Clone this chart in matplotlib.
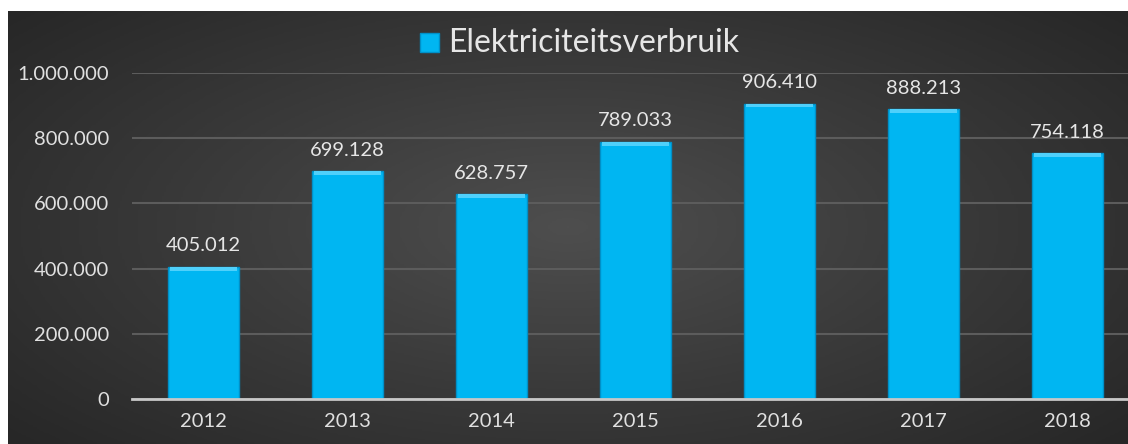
import numpy as np
import matplotlib
matplotlib.use("Agg")
import matplotlib.pyplot as plt
from matplotlib.colors import LinearSegmentedColormap

jaren = ["2012", "2013", "2014", "2015", "2016", "2017", "2018"]
verbruik = [405012, 699128, 628757, 789033, 906410, 888213, 754118]
y_ticks = [0, 200000, 400000, 600000, 800000, 1000000]


def nl(v):
    return f"{v:,}".replace(",", ".")


plt.rcParams["font.family"] = ["Lato", "DejaVu Sans"]
W, H = 1128, 444
fig = plt.figure(figsize=(W / 100, H / 100), dpi=100)
fig.patch.set_facecolor("white")

# achtergrond met radiaal verloop
bg = fig.add_axes([8 / W, 0, 1 - 8 / W, 433 / H])
yy, xx = np.mgrid[-1:1:200j, -1:1:500j]
r = np.sqrt((xx * 0.9) ** 2 + (yy * 0.8) ** 2)
cmap = LinearSegmentedColormap.from_list("bg", ["#4e4e4e", "#3a3a3a", "#272727"])
bg.imshow(r, cmap=cmap, aspect="auto", extent=[0, 1, 0, 1], vmin=0, vmax=1.2)
bg.set_axis_off()

ax = fig.add_axes([131.5 / W, 45 / H, (W - 131.5) / W, 326 / H])
ax.patch.set_alpha(0)
x = np.arange(len(jaren))
bw = 0.49
ax.bar(x, verbruik, width=bw, color="#00b6f2", edgecolor="#0090c8", linewidth=1, zorder=3)
# lichte bovenrand (bevel)
bevel = 12000
ax.bar(x, [bevel] * len(x), bottom=[v - bevel for v in verbruik], width=bw - 0.02,
       color="#4fd0fb", linewidth=0, zorder=4)

for xi, v in zip(x, verbruik):
    ax.annotate(nl(v), (xi, v), xytext=(0, 9), textcoords="offset points",
                ha="center", va="bottom", color="#e6e6e6", fontsize=14.5)

ax.set_xlim(-0.5, -0.5 + (W - 131.5) / 144)
ax.set_ylim(0, 1000000)
ax.set_xticks(x)
ax.set_xticklabels(jaren)
ax.set_yticks(y_ticks)
ax.set_yticklabels([nl(t) for t in y_ticks])
ax.tick_params(axis="both", length=0, colors="#e0e0e0", labelsize=14.5)
ax.tick_params(axis="y", pad=16)
ax.tick_params(axis="x", pad=10)
ax.grid(axis="y", color="#5c5c5c", linewidth=1.5, zorder=0)
for s in ["top", "right", "left"]:
    ax.spines[s].set_visible(False)
ax.spines["bottom"].set_color("#c8c8c8")
ax.spines["bottom"].set_linewidth(2)
ax.spines["bottom"].set_zorder(5)

# legenda boven
fig.patches.append(plt.Rectangle((420 / W, 1 - 52 / H), 19 / W, 19 / H, transform=fig.transFigure,
                                 facecolor="#00b6f2", edgecolor="#0090c8", linewidth=1))
fig.text(448 / W, 1 - 43 / H, "Elektriciteitsverbruik", color="#e6e6e6", fontsize=23,
         ha="left", va="center")

fig.savefig("out.png", dpi=100, facecolor=fig.get_facecolor())
